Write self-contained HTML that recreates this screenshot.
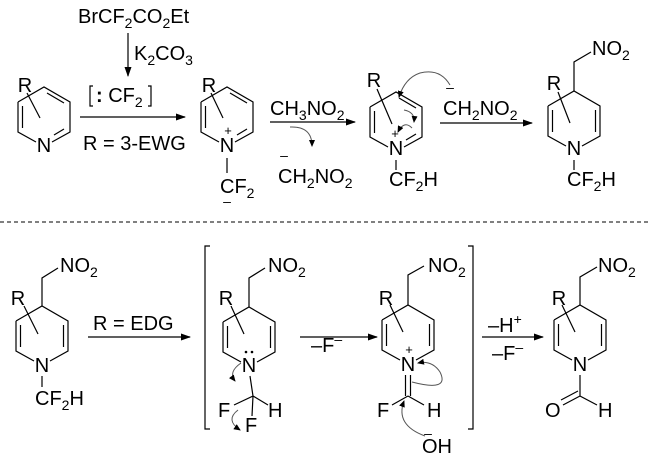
<!DOCTYPE html>
<html><head><meta charset="utf-8"><style>
html,body{margin:0;padding:0;background:#fff;}
svg{display:block;font-family:"Liberation Sans",Arial,sans-serif;}
text{font-size:20px;fill:#000;}
.s{font-size:14px;}
</style></head><body>
<svg width="650" height="469" viewBox="0 0 650 469" xmlns="http://www.w3.org/2000/svg">
<defs>
<marker id="ah" markerWidth="10" markerHeight="8" refX="9" refY="4" orient="auto" markerUnits="userSpaceOnUse"><path d="M0,0.5 L10,4 L0,7.5 Z" fill="#000"/></marker>
<marker id="ch" markerWidth="7" markerHeight="6" refX="6" refY="3" orient="auto" markerUnits="userSpaceOnUse"><path d="M0,0 L7,3 L0,6 Z" fill="#000"/></marker>
</defs>
<g stroke="#000" stroke-width="1.2" fill="none">
<path d="M18,102 L44,87 L70,102 L70,132 L52,142 M36,142 L18,132 L18,102"/>
<path d="M47,93 L64,103 M22.5,106 L22.5,128 M64,129 L54,135"/>
<path d="M27,93 L40,118"/>
<path d="M201,102 L227,87 L253,102 L253,132 L235,142 M219,142 L201,132 L201,102"/>
<path d="M230,93 L247,103 M205.5,106 L205.5,128 M247,129 L237,135"/>
<path d="M211,93 L223,118"/>
<path d="M227,158 L227,173"/>
<path d="M370,107 L396,92 L422,107 L422,137 L404,147 M388,147 L370,137 L370,107"/>
<path d="M399,98 L416,108 M374.5,111 L374.5,133 M416,134 L406,140"/>
<path d="M377,89 L392,124"/>
<path d="M396,160 L396,170"/>
<path d="M548,106 L574,91 L600,106 L600,136 L582,146 M566,146 L548,136 L548,106"/>
<path d="M552.5,110 L552.5,132 M595.5,110 L595.5,132"/>
<path d="M558,92 L570,123"/>
<path d="M574,91 L574,62 L591,52"/>
<path d="M574,160 L574,170"/>
<path d="M16,321 L42,306 L68,321 L68,351 L50,361 M34,361 L16,351 L16,321"/>
<path d="M20.5,325 L20.5,347 M63.5,325 L63.5,347"/>
<path d="M24,306 L38,334"/>
<path d="M42,306 L42,278 L58,268"/>
<path d="M42,376 L42,387"/>
<path d="M223,322 L249,307 L275,322 L275,352 L257,362 M241,362 L223,352 L223,322"/>
<path d="M227.5,326 L227.5,348 M270.5,326 L270.5,348"/>
<path d="M231,306 L244,334"/>
<path d="M249,307 L249,278 L265,268"/>
<path d="M250,376 L253,396 L234,405 M253,396 L268,405 M253,396 L252,416"/>
<path d="M382,320 L408,305 L434,320 L434,350 L416,360 M400,360 L382,350 L382,320"/>
<path d="M386.5,324 L386.5,346 M429.5,324 L429.5,346"/>
<path d="M390,305 L403,332"/>
<path d="M408,305 L408,275 L424,266"/>
<path d="M405.5,375 L405.5,396 M410.5,375 L410.5,396 M408,396 L392,405 M408,396 L424,405"/>
<path d="M554,320 L580,305 L606,320 L606,350 L588,360 M572,360 L554,350 L554,320"/>
<path d="M558.5,324 L558.5,346 M601.5,324 L601.5,346"/>
<path d="M562,305 L575,332"/>
<path d="M580,305 L580,277 L597,267"/>
<path d="M580,375 L580,396 L597,405 M580,396 L563,405 M578,391 L561,400"/>
<path d="M210,246 L205,246 L205,429 L210,429"/>
<path d="M468,246 L473,246 L473,429 L468,429"/>
<path d="M93,86 L90,86 L90,106 L93,106 M148,86 L151,86 L151,106 L148,106"/>
<path d="M0,222 L650,222" stroke-dasharray="4,3" stroke-width="1"/>
</g>
<g stroke="#000" stroke-width="1.2" fill="none" marker-end="url(#ah)">
<path d="M128,33 L128,76"/>
<path d="M80,117 L185,117"/>
<path d="M270,122 L355,122"/>
<path d="M440,123 L532,123"/>
<path d="M88,337 L190,337"/>
<path d="M300,337 L377,337"/>
<path d="M482,337 L543,337"/>
</g>
<g stroke="#555" stroke-width="1" fill="none" marker-end="url(#ch)">
<path d="M290,127 Q312,126 312,146"/>
<path d="M450,85 Q440,68 420,73 Q405,78 399,97"/>
<path d="M404,110 Q415,112 414,122"/>
<path d="M412,128 Q404,120 398,132"/>
<path d="M241,363 Q228,372 235,381"/>
<path d="M238,410 Q225,420 240,430"/>
<path d="M425,436 Q395,425 404,401"/>
<path d="M412,382 Q450,392 440,372 Q432,360 418,363"/>
</g>
<circle cx="246" cy="352" r="1.3" fill="#000"/><circle cx="252" cy="352" r="1.3" fill="#000"/>
<text x="78" y="23">BrCF<tspan class="s" dy="5">2</tspan><tspan dy="-5">CO</tspan><tspan class="s" dy="5">2</tspan><tspan dy="-5">Et</tspan></text>
<text x="134" y="60">K<tspan class="s" dy="5">2</tspan><tspan dy="-5">CO</tspan><tspan class="s" dy="5">3</tspan></text>
<text x="96" y="102"><tspan font-weight="bold">:</tspan> CF<tspan class="s" dy="5">2</tspan></text>
<text x="83" y="150">R = 3-EWG</text>
<text x="25" y="92" text-anchor="middle">R</text>
<text x="44" y="152" text-anchor="middle">N</text>
<text x="209" y="92" text-anchor="middle">R</text>
<text x="227" y="152" text-anchor="middle">N</text>
<text x="228" y="135" text-anchor="middle" style="font-size:13px">+</text>
<text x="220" y="193">CF<tspan class="s" dy="5">2</tspan></text>
<text x="227" y="206" text-anchor="middle" style="font-size:14px">–</text>
<text x="270" y="115">CH<tspan class="s" dy="5">3</tspan><tspan dy="-5">NO</tspan><tspan class="s" dy="5">2</tspan></text>
<text x="284" y="160" text-anchor="middle" style="font-size:14px">–</text>
<text x="278" y="183">CH<tspan class="s" dy="5">2</tspan><tspan dy="-5">NO</tspan><tspan class="s" dy="5">2</tspan></text>
<text x="374" y="87" text-anchor="middle">R</text>
<text x="396" y="155" text-anchor="middle">N</text>
<text x="395" y="138" text-anchor="middle" style="font-size:13px">+</text>
<text x="389" y="186">CF<tspan class="s" dy="5">2</tspan><tspan dy="-5">H</tspan></text>
<text x="450" y="92" text-anchor="middle" style="font-size:14px">–</text>
<text x="443" y="115">CH<tspan class="s" dy="5">2</tspan><tspan dy="-5">NO</tspan><tspan class="s" dy="5">2</tspan></text>
<text x="554" y="90" text-anchor="middle">R</text>
<text x="574" y="155" text-anchor="middle">N</text>
<text x="592" y="55">NO<tspan class="s" dy="5">2</tspan></text>
<text x="567" y="186">CF<tspan class="s" dy="5">2</tspan><tspan dy="-5">H</tspan></text>
<text x="18" y="305" text-anchor="middle">R</text>
<text x="42" y="372" text-anchor="middle">N</text>
<text x="60" y="272">NO<tspan class="s" dy="5">2</tspan></text>
<text x="35" y="405">CF<tspan class="s" dy="5">2</tspan><tspan dy="-5">H</tspan></text>
<text x="93" y="330">R = EDG</text>
<text x="226" y="305" text-anchor="middle">R</text>
<text x="249" y="372" text-anchor="middle">N</text>
<text x="268" y="272">NO<tspan class="s" dy="5">2</tspan></text>
<text x="218" y="417">F</text>
<text x="268" y="417">H</text>
<text x="245" y="432">F</text>
<text x="311" y="352">–F<tspan class="s" dy="-8">–</tspan></text>
<text x="386" y="305" text-anchor="middle">R</text>
<text x="408" y="371" text-anchor="middle">N</text>
<text x="409" y="354" text-anchor="middle" style="font-size:13px">+</text>
<text x="428" y="272">NO<tspan class="s" dy="5">2</tspan></text>
<text x="377" y="417">F</text>
<text x="427" y="417">H</text>
<text x="428" y="438" text-anchor="middle" style="font-size:14px">–</text>
<text x="422" y="453">OH</text>
<text x="488" y="332">–H<tspan class="s" dy="-8">+</tspan></text>
<text x="492" y="360">–F<tspan class="s" dy="-8">–</tspan></text>
<text x="559" y="305" text-anchor="middle">R</text>
<text x="580" y="371" text-anchor="middle">N</text>
<text x="598" y="272">NO<tspan class="s" dy="5">2</tspan></text>
<text x="545" y="417">O</text>
<text x="598" y="417">H</text>
</svg>
</body></html>
